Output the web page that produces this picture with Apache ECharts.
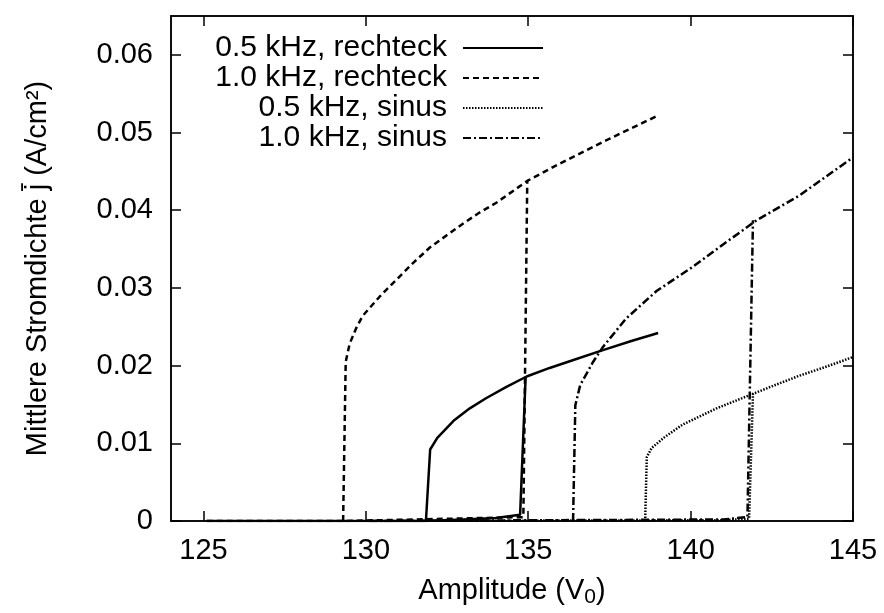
<!DOCTYPE html>
<html>
<head>
<meta charset="utf-8">
<script src="https://cdn.jsdelivr.net/npm/echarts@6/dist/echarts.min.js"></script>
<style>html,body{margin:0;padding:0;background:#fff}#c{width:884px;height:613px}</style>
</head>
<body>
<div id="c"></div>
<script>
// Legend / series names
const seriesNames = ['0.5 kHz, rechteck', '1.0 kHz, rechteck', '0.5 kHz, sinus', '1.0 kHz, sinus'];
// Tick labels
const xTicks = [125, 130, 135, 140, 145];
const yTicks = [0, 0.01, 0.02, 0.03, 0.04, 0.05, 0.06];

// 0.5 kHz rechteck: rising sweep (lower branch) and falling sweep (upper branch), [V0, j]
const rect05Lower = [[125.1,0],[131.8,0],[133.0,0.0002],[134.0,0.0004],[134.75,0.0008],[134.92,0.0186]];
const rect05Upper = [[131.85,0],[131.98,0.0092],[132.2,0.0107],[132.7,0.0129],[133.2,0.0145],[133.7,0.0158],[134.3,0.0172],[134.95,0.0186],[135.66,0.0197],[136.3,0.0206],[137.3,0.0220],[138.2,0.0232],[139.0,0.0242]];

// 1.0 kHz rechteck
const rect10Lower = [[125.1,0],[129.3,0],[134.85,0.0005],[134.97,0.0438]];
const rect10Upper = [[129.3,0],[129.38,0.0205],[129.5,0.0228],[129.7,0.0248],[129.9,0.0264],[130.43,0.0289],[130.95,0.0311],[131.45,0.0332],[131.97,0.0352],[132.5,0.0368],[133.0,0.0383],[133.5,0.0397],[134.03,0.0410],[134.98,0.0438],[135.97,0.0460],[137.5,0.0492],[139.0,0.0522]];

// 0.5 kHz sinus
const sin05Lower = [[130.1,0],[141.0,0.0001],[141.8,0.0003],[141.92,0.0164]];
const sin05Upper = [[138.6,0],[138.65,0.0082],[138.8,0.0094],[139.2,0.0108],[139.75,0.0124],[140.3,0.0135],[140.8,0.0145],[141.94,0.0164],[142.6,0.0175],[143.35,0.0187],[144.2,0.0199],[145.0,0.0211]];

// 1.0 kHz sinus
const sin10Lower = [[130.1,0],[141.0,0.0002],[141.75,0.0005],[141.92,0.0387]];
const sin10Upper = [[136.38,0],[136.45,0.0149],[136.6,0.0175],[137.0,0.0205],[137.3,0.0224],[138.0,0.0260],[138.95,0.0296],[140.06,0.0327],[141.2,0.0362],[142.03,0.0387],[143.35,0.0419],[145.0,0.0468]];

const FONT = '"Liberation Sans", Arial, Helvetica, sans-serif';
const styles = [
  {type: 'solid', width: 2.5},
  {type: [6, 4], width: 2.5},
  {type: [1.5, 1.5], width: 2.5},
  {type: [8, 3, 2, 3], width: 2.5}
];
const branches = [
  [rect05Lower, rect05Upper],
  [rect10Lower, rect10Upper],
  [sin05Lower, sin05Upper],
  [sin10Lower, sin10Upper]
];

const series = [];
branches.forEach((pair, i) => {
  pair.forEach(data => {
    series.push({
      name: seriesNames[i],
      type: 'line',
      data: data,
      showSymbol: false,
      symbol: 'none',
      clip: true,
      lineStyle: {color: '#000', width: styles[i].width, type: styles[i].type, cap: 'butt'},
      itemStyle: {color: '#000', opacity: 0},
      emphasis: {disabled: true}
    });
  });
});

const chart = echarts.init(document.getElementById('c'), null, {renderer: 'canvas'});
chart.setOption({
  animation: false,
  backgroundColor: '#fff',
  textStyle: {fontFamily: FONT},
  grid: {left: 171, right: 31, top: 16, bottom: 89, containLabel: false,
         show: true, borderColor: '#000', borderWidth: 1.5},
  legend: {
    data: seriesNames,
    orient: 'vertical',
    align: 'right',
    right: 335,
    top: 28,
    padding: 5,
    itemWidth: 80,
    itemHeight: 14,
    itemGap: 0,
    selectedMode: false,
    itemStyle: {opacity: 0},
    textStyle: {fontFamily: FONT, fontSize: 30, color: '#000', lineHeight: 30, padding: [0, 11, 0, 0]}
  },
  xAxis: [{
    type: 'value', min: 124, max: 145, position: 'bottom',
    name: 'Amplitude (V{sub|0})', nameLocation: 'middle', nameGap: 52,
    nameTextStyle: {fontFamily: FONT, fontSize: 29, color: '#000',
      rich: {sub: {fontFamily: FONT, fontSize: 21, color: '#000', padding: [14, 0, 0, 0]}}},
    axisLine: {show: true, onZero: false, lineStyle: {color: '#000', width: 1.5}},
    axisTick: {show: true, inside: true, length: 10, customValues: xTicks, lineStyle: {color: '#000', width: 1.5}},
    axisLabel: {show: true, customValues: xTicks, margin: 15, fontFamily: FONT, fontSize: 29, color: '#000'},
    splitLine: {show: false}
  }, {
    type: 'value', min: 124, max: 145, position: 'top',
    axisLine: {show: true, onZero: false, lineStyle: {color: '#000', width: 1.5}},
    axisTick: {show: true, inside: true, length: 10, customValues: xTicks, lineStyle: {color: '#000', width: 1.5}},
    axisLabel: {show: false},
    splitLine: {show: false}
  }],
  yAxis: [{
    type: 'value', min: 0, max: 0.065, position: 'left',
    name: 'Mittlere Stromdichte j\u0304 (A/cm\u00b2)', nameLocation: 'middle', nameGap: 119, nameRotate: 90,
    nameTextStyle: {fontFamily: FONT, fontSize: 29, color: '#000'},
    axisLine: {show: true, onZero: false, lineStyle: {color: '#000', width: 1.5}},
    axisTick: {show: true, inside: true, length: 10, customValues: yTicks, lineStyle: {color: '#000', width: 1.5}},
    axisLabel: {show: true, customValues: yTicks, margin: 18, fontFamily: FONT, fontSize: 29, color: '#000',
      formatter: v => (v === 0 ? '0' : v.toFixed(2))},
    splitLine: {show: false}
  }, {
    type: 'value', min: 0, max: 0.065, position: 'right',
    axisLine: {show: true, onZero: false, lineStyle: {color: '#000', width: 1.5}},
    axisTick: {show: true, inside: true, length: 10, customValues: yTicks, lineStyle: {color: '#000', width: 1.5}},
    axisLabel: {show: false},
    splitLine: {show: false}
  }],
  series: series
});
</script>
</body>
</html>
